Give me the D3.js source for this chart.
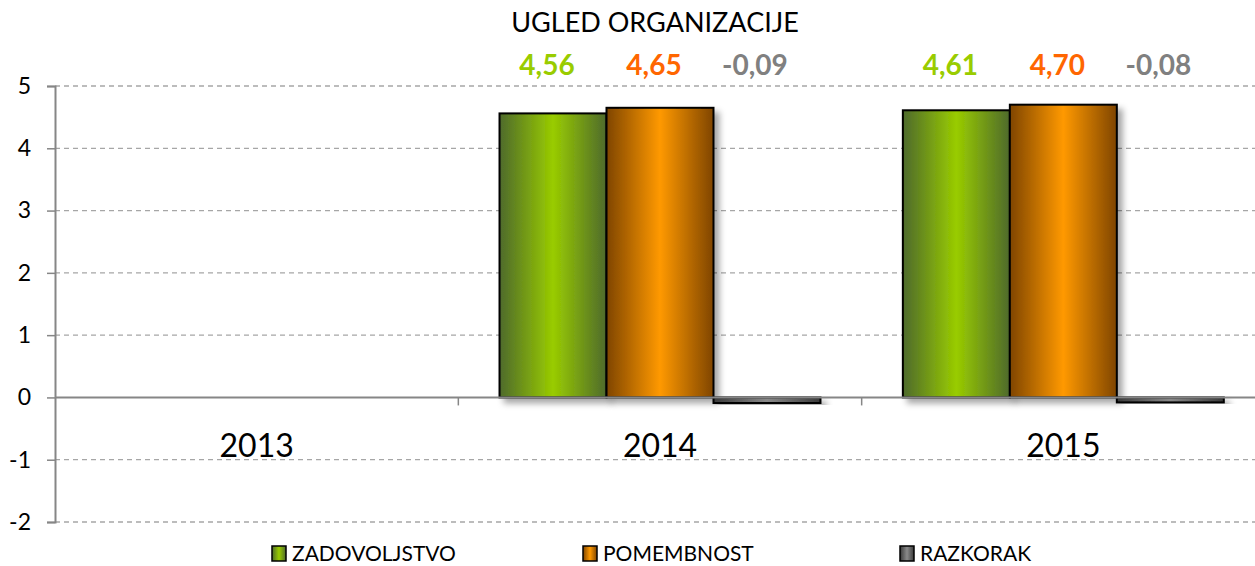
<!DOCTYPE html>
<head>
    <meta charset="utf-8">
    <title>UGLED ORGANIZACIJE</title>
    <script type="text/javascript" src="https://d3js.org/d3.v7.min.js"></script>
    <style>
        body { margin: 0; background: #fff; }
        text { font-family: Lato, "Open Sans", sans-serif; }
    </style>
</head>
<body>
<div id="container"></div>
<script>
    //----------------------------DATA-------------------------------//
    const years = ["2013", "2014", "2015"];
    const seriesNames = ["ZADOVOLJSTVO", "POMEMBNOST", "RAZKORAK"];
    const zadovoljstvo = [null, 4.56, 4.61];
    const pomembnost = [null, 4.65, 4.70];
    const razkorak = [null, -0.09, -0.08];
    const yTicks = [-2, -1, 0, 1, 2, 3, 4, 5];

    const values = [zadovoljstvo, pomembnost, razkorak];
    const labelColors = ["#99cc00", "#ff6600", "#808080"];
    const gradStops = [
        ["#4e6a2c", "#99cc00", "#4e6a2c"],
        ["#7f4500", "#ff9900", "#7f4500"],
        ["#3a3a3a", "#8a8a8a", "#3a3a3a"]
    ];

    //----------------------------SVG--------------------------------//
    const width = 1255;
    const height = 566;
    const plotLeft = 55, plotRight = 1265, plotTop = 86, plotBottom = 522;

    const svg = d3.select("#container").append("svg")
        .attr("width", width)
        .attr("height", height);

    const defs = svg.append("defs");
    gradStops.forEach(function(s, i) {
        const g = defs.append("linearGradient")
            .attr("id", "grad" + i)
            .attr("x1", "0%").attr("x2", "100%")
            .attr("y1", "0%").attr("y2", "0%");
        g.append("stop").attr("offset", "0%").attr("stop-color", s[0]);
        g.append("stop").attr("offset", "50%").attr("stop-color", s[1]);
        g.append("stop").attr("offset", "100%").attr("stop-color", s[2]);
    });
    const shadow = defs.append("filter").attr("id", "shadow")
        .attr("x", "-20%").attr("y", "-20%").attr("width", "150%").attr("height", "150%");
    shadow.append("feDropShadow")
        .attr("dx", 5).attr("dy", 5).attr("stdDeviation", 3)
        .attr("flood-color", "#000").attr("flood-opacity", 0.35);

    //---------------------------SCALES------------------------------//
    const x = d3.scaleBand().domain(years).range([plotLeft, plotRight]).padding(0);
    const xs = d3.scaleBand().domain(seriesNames).range([0, x.bandwidth()])
        .paddingOuter(0.385).paddingInner(0);
    const y = d3.scaleLinear().domain([-2, 5]).range([plotBottom, plotTop]);

    //---------------------------GRID--------------------------------//
    svg.append("g")
        .selectAll("line")
        .data(yTicks.filter(d => d !== 0))
        .enter().append("line")
        .attr("x1", plotLeft).attr("x2", width)
        .attr("y1", d => y(d)).attr("y2", d => y(d))
        .attr("stroke", "#a6a6a6")
        .attr("stroke-width", 1.3)
        .attr("stroke-dasharray", "5,4");

    //---------------------------AXES--------------------------------//
    const yaxis = d3.axisLeft(y).tickValues(yTicks).tickSize(8).tickFormat(d3.format("d"));
    const gy = svg.append("g")
        .attr("transform", "translate(" + plotLeft + ",0)")
        .call(yaxis);
    gy.select(".domain").attr("stroke", "#868686").attr("stroke-width", 2);
    gy.selectAll(".tick line").attr("stroke", "#868686").attr("stroke-width", 1.5);
    gy.selectAll(".tick text")
        .attr("x", -24)
        .attr("font-size", 23)
        .attr("fill", "#000")
        .style("font-family", "Lato, 'Open Sans', sans-serif")
        .text(d => d < 0 ? "-" + Math.abs(d) : d);

    //---------------------------BARS--------------------------------//
    const groups = svg.selectAll(".grp")
        .data(years)
        .enter().append("g")
        .attr("class", "grp")
        .attr("transform", d => "translate(" + x(d) + ",0)");

    groups.selectAll("rect")
        .data((d, i) => values.map((v, k) => ({ k: k, name: seriesNames[k], v: v[i] })).filter(e => e.v !== null))
        .enter().append("rect")
        .attr("x", d => xs(d.name))
        .attr("width", xs.bandwidth())
        .attr("y", d => y(Math.max(0, d.v)))
        .attr("height", d => Math.abs(y(d.v) - y(0)))
        .attr("fill", d => "url(#grad" + d.k + ")")
        .attr("stroke", "#000")
        .attr("stroke-width", 2)
        .attr("filter", "url(#shadow)");

    // x axis line at zero + category ticks
    svg.append("line")
        .attr("x1", plotLeft).attr("x2", width)
        .attr("y1", y(0)).attr("y2", y(0))
        .attr("stroke", "#868686").attr("stroke-width", 2);
    svg.append("g").selectAll("line")
        .data(years.slice(1))
        .enter().append("line")
        .attr("x1", d => x(d)).attr("x2", d => x(d))
        .attr("y1", y(0)).attr("y2", y(0) + 8)
        .attr("stroke", "#868686").attr("stroke-width", 1.5);

    // year labels
    svg.append("g").selectAll("text")
        .data(years)
        .enter().append("text")
        .attr("x", d => x(d) + x.bandwidth() / 2)
        .attr("y", 457)
        .attr("text-anchor", "middle")
        .attr("font-size", 32)
        .attr("fill", "#000")
        .text(d => d);

    //--------------------------LABELS-------------------------------//
    groups.selectAll(".val")
        .data((d, i) => values.map((v, k) => ({ k: k, name: seriesNames[k], v: v[i] })).filter(e => e.v !== null))
        .enter().append("text")
        .attr("class", "val")
        .attr("x", d => xs(d.name) + xs.bandwidth() / 2 - (d.v < 0 ? 12 : 6))
        .attr("y", 75)
        .attr("text-anchor", "middle")
        .attr("font-size", 28)
        .attr("font-weight", "bold")
        .attr("fill", d => labelColors[d.k])
        .text(d => d.v.toFixed(2).replace(".", ","));

    //---------------------------TITLE-------------------------------//
    svg.append("text")
        .attr("x", 655)
        .attr("y", 32)
        .attr("text-anchor", "middle")
        .attr("font-size", 27)
        .attr("fill", "#000")
        .text("UGLED ORGANIZACIJE");

    //---------------------------LEGEND------------------------------//
    const legendX = [272, 583, 900];
    const leg = svg.append("g").selectAll("g")
        .data(seriesNames)
        .enter().append("g")
        .attr("transform", (d, i) => "translate(" + legendX[i] + ",546)");
    leg.append("rect")
        .attr("width", 14).attr("height", 15)
        .attr("fill", (d, i) => "url(#grad" + i + ")")
        .attr("stroke", "#000").attr("stroke-width", 1.5);
    leg.append("text")
        .attr("x", 20).attr("y", 15)
        .attr("font-size", 21)
        .attr("fill", "#000")
        .text(d => d);
</script>
</body>
